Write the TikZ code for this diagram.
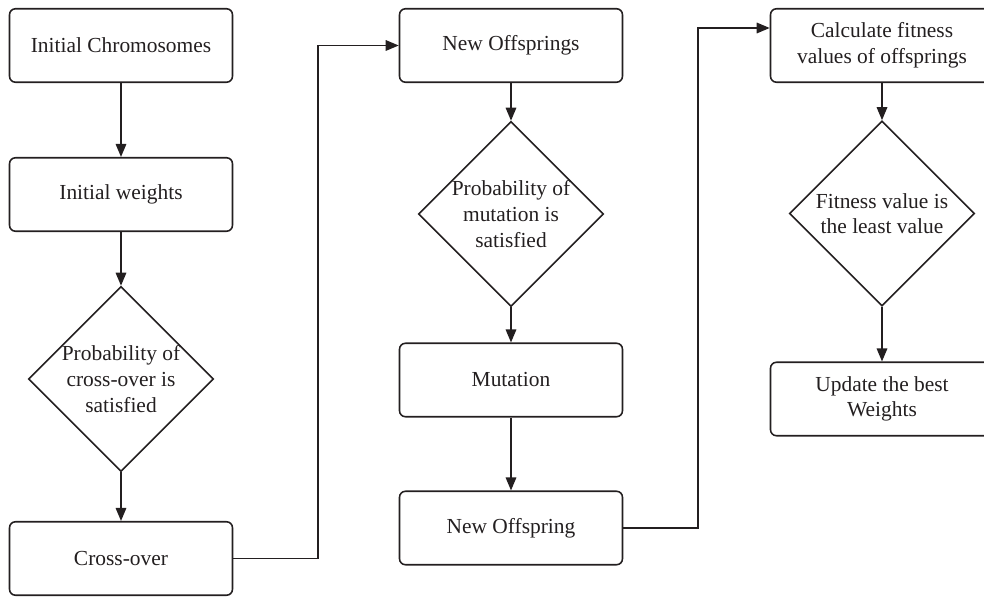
\documentclass[tikz,border=0pt]{standalone}
\usepackage{fontspec}
\setmainfont{Liberation Serif}
\usetikzlibrary{shapes.geometric,arrows.meta}
\definecolor{inkgray}{HTML}{231F20}

\begin{document}
\begin{tikzpicture}[x=0.02cm,y=-0.02cm,
  font=\fontsize{12.2}{14.6}\selectfont,
  procbox/.style={draw=inkgray,line width=0.9pt,rounded corners=0.12cm,minimum width=4.46cm,minimum height=1.47cm,align=center,text=inkgray},
  decision/.style={draw=inkgray,line width=0.9pt,diamond,minimum width=3.7cm,minimum height=3.7cm,inner sep=0pt},
  flow/.style={draw=inkgray,line width=0.9pt,-{Triangle[length=0.26cm,width=0.21cm]}}]
\useasboundingbox (0,0) rectangle (984,597);
\clip (0,0) rectangle (984,597);

\node[procbox] (chrom) at (121,45.5) {Initial Chromosomes};
\node[procbox] (weights) at (121,194.5) {Initial weights};
\node[decision,label={[align=center,text=inkgray]center:Probability of\\cross-over is\\satisfied}] (pcross) at (121,379) {};
\node[procbox] (cross) at (121,558.5) {Cross-over};

\node[procbox] (offs) at (511,45.5) {New Offsprings};
\node[decision,label={[align=center,text=inkgray]center:Probability of\\mutation is\\satisfied}] (pmut) at (511,214) {};
\node[procbox] (mut) at (511,380) {Mutation};
\node[procbox] (offone) at (511,528) {New Offspring};

\node[procbox] (calc) at (882,45.5) {Calculate fitness\\values of offsprings};
\node[decision,label={[align=center,text=inkgray]center:Fitness value is\\the least value}] (pfit) at (882,213.5) {};
\node[procbox] (update) at (882,399) {Update the best\\Weights};

\draw[flow] (chrom) -- (weights);
\draw[flow] (weights) -- (pcross);
\draw[flow] (pcross) -- (cross);
\draw[flow] (cross.east) -- ++(85,0) |- (offs.west);

\draw[flow] (offs) -- (pmut);
\draw[flow] (pmut) -- (mut);
\draw[flow] (mut) -- (offone);
\draw[flow] (offone.east) -- ++(75,0) |- ([yshift=0.35cm]calc.west);

\draw[flow] (calc) -- (pfit);
\draw[flow] (pfit) -- (update);
\end{tikzpicture}
\end{document}
